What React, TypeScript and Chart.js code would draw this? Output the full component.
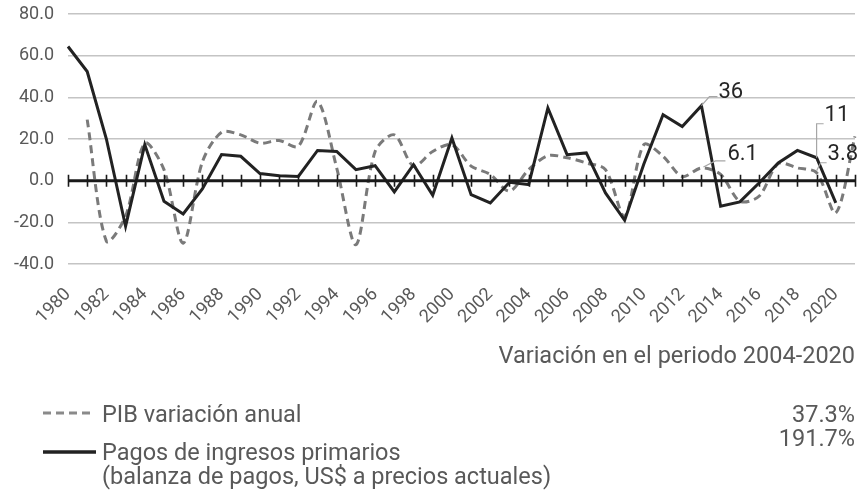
import React, { useEffect, useRef } from "react";
import { Chart, registerables } from "chart.js";

Chart.register(...registerables);

const years = [
  "1980", "1981", "1982", "1983", "1984", "1985", "1986", "1987", "1988", "1989",
  "1990", "1991", "1992", "1993", "1994", "1995", "1996", "1997", "1998", "1999",
  "2000", "2001", "2002", "2003", "2004", "2005", "2006", "2007", "2008", "2009",
  "2010", "2011", "2012", "2013", "2014", "2015", "2016", "2017", "2018", "2019",
  "2020", "2021",
];

const pibVariacion = [
  null, 29.3, -29, -17, 18, 5.3, -30, 9, 23.2, 22,
  18, 19.3, 16.5, 38, 6, -30.7, 14, 22, 7, 14,
  17.3, 7, 3, -5, 5.3, 12, 11, 8.5, 5.3, -17,
  17.3, 11.7, 2, 6.1, 3, -9.9, -7.5, 8.2, 6.1, 3.8,
  -15.5, 21.3,
];

const pagosIngresos = [
  64.4, 52.4, 20, -21.9, 17.3, -9.9, -16, -4, 12.5, 11.7,
  3.4, 2.4, 2, 14.5, 14, 5.3, 7.2, -5.4, 7.7, -7,
  20.5, -6.7, -10.7, -0.8, -1.9, 34.9, 12.5, 13.3, -5.9, -19,
  8, 31.7, 26, 36, -12.3, -10.2, -1.1, 8.5, 14.5, 11,
  -10.7, null,
];

const yMin = -40;
const yMax = 80;
const yStep = 20;

const legendLabels = [
  "PIB variación anual",
  "Pagos de ingresos primarios",
  "(balanza de pagos, US$ a precios actuales)",
];
const periodTitle = "Variación en el periodo 2004-2020";
const periodValues = ["37.3%", "191.7%"];

// value labels: dataset index (0 = pagos, 1 = pib), year, text
const valueLabels = [
  { ds: 0, year: "2013", text: "36", leader: [[0, 0], [8, -9], [16, -9]], tx: 17, ty: -13 },
  { ds: 1, year: "2013", text: "6.1", leader: [[2, -1], [14, -7], [24, -7]], tx: 26, ty: -13 },
  { ds: 0, year: "2019", text: "11", leader: [[0, 0], [0, -34], [7, -34]], tx: 8, ty: -42 },
  { ds: 1, year: "2019", text: "3.8", leader: [[0, -2], [4, -10], [10, -10]], tx: 11, ty: -18 },
];

const FONT = "Roboto, 'DejaVu Sans', sans-serif";
const GRAY_TEXT = "#595959";

const overlayPlugin = {
  id: "overlay",
  afterDatasetsDraw(chart: any) {
    const { ctx, chartArea, scales } = chart;
    const xs = scales.x;
    const ys = scales.y;
    const y0 = ys.getPixelForValue(0);
    ctx.save();
    ctx.strokeStyle = "#1a1a1a";
    ctx.lineWidth = 3;
    ctx.beginPath();
    ctx.moveTo(chartArea.left, y0);
    ctx.lineTo(chartArea.right, y0);
    ctx.stroke();
    ctx.lineWidth = 1.6;
    ctx.beginPath();
    for (let i = 0; i < years.length; i++) {
      const px = Math.round(xs.getPixelForValue(i)) + 0.5;
      ctx.moveTo(px, y0 - 6);
      ctx.lineTo(px, y0 + 6);
    }
    ctx.stroke();

    ctx.font = `22px ${FONT}`;
    ctx.textBaseline = "middle";
    ctx.textAlign = "left";
    for (const lab of valueLabels) {
      const meta = chart.getDatasetMeta(lab.ds);
      const idx = years.indexOf(lab.year);
      const pt = meta.data[idx];
      if (!pt) continue;
      const px = pt.x;
      const py = pt.y;
      ctx.strokeStyle = "#a6a6a6";
      ctx.lineWidth = 1.2;
      ctx.beginPath();
      lab.leader.forEach(([dx, dy], k) => {
        if (k === 0) ctx.moveTo(px + dx, py + dy);
        else ctx.lineTo(px + dx, py + dy);
      });
      ctx.stroke();
      ctx.fillStyle = "#262626";
      ctx.fillText(lab.text, px + lab.tx, py + lab.ty);
    }
    ctx.restore();
  },
  afterDraw(chart: any) {
    const { ctx } = chart;
    ctx.save();
    ctx.font = `23.5px ${FONT}`;
    ctx.fillStyle = GRAY_TEXT;
    ctx.textBaseline = "alphabetic";
    ctx.textAlign = "right";
    ctx.fillText(periodTitle, 855, 363);
    ctx.fillText(periodValues[0], 855, 422);
    ctx.fillText(periodValues[1], 855, 446);

    ctx.textAlign = "left";
    ctx.fillText(legendLabels[0], 102, 422);
    ctx.fillText(legendLabels[1], 102, 460);
    ctx.fillText(legendLabels[2], 102, 484);

    ctx.strokeStyle = "#8a8a8a";
    ctx.lineWidth = 3;
    ctx.setLineDash([8, 5]);
    ctx.beginPath();
    ctx.moveTo(43, 413);
    ctx.lineTo(91, 413);
    ctx.stroke();
    ctx.setLineDash([]);
    ctx.strokeStyle = "#222222";
    ctx.lineWidth = 3.5;
    ctx.beginPath();
    ctx.moveTo(43, 452);
    ctx.lineTo(96, 452);
    ctx.stroke();
    ctx.restore();
  },
};

export default function App() {
  const canvasRef = useRef<HTMLCanvasElement | null>(null);

  useEffect(() => {
    if (!canvasRef.current) return;
    const chart = new Chart(canvasRef.current, {
      type: "line",
      data: {
        labels: years,
        datasets: [
          {
            label: legendLabels[1],
            data: pagosIngresos,
            borderColor: "#222222",
            borderWidth: 3,
            pointRadius: 0,
            tension: 0,
            fill: false,
            spanGaps: false,
          },
          {
            label: legendLabels[0],
            data: pibVariacion,
            borderColor: "#7a7a7a",
            borderWidth: 3,
            borderDash: [8, 5],
            pointRadius: 0,
            tension: 0.3,
            fill: false,
            spanGaps: false,
          },
        ],
      },
      options: {
        responsive: false,
        animation: false,
        devicePixelRatio: 1,
        layout: { padding: { left: 0, right: 7, top: 14, bottom: 168 } },
        plugins: {
          legend: { display: false },
          tooltip: { enabled: false },
        },
        scales: {
          x: {
            type: "category",
            offset: false,
            grid: { display: false, drawTicks: false },
            border: { display: false },
            ticks: {
              autoSkip: false,
              maxRotation: 45,
              minRotation: 45,
              padding: 20,
              color: GRAY_TEXT,
              font: { family: FONT, size: 18 },
              callback: (_v: any, i: number) => (i % 2 === 0 ? years[i] : ""),
            },
            afterFit: (s: any) => {
              s.height = 60;
              s.paddingLeft = 0;
              s.paddingRight = 0;
              s.paddingTop = 0;
              s.paddingBottom = 0;
            },
          },
          y: {
            min: yMin,
            max: yMax,
            ticks: {
              stepSize: yStep,
              padding: 14,
              color: GRAY_TEXT,
              font: { family: FONT, size: 18 },
              callback: (v: any) => Number(v).toFixed(1),
            },
            grid: { color: "#c4c4c4", lineWidth: 1.5, drawTicks: false },
            border: { display: false },
            afterFit: (s: any) => {
              s.width = 68;
              s.paddingLeft = 0;
              s.paddingRight = 0;
              s.paddingTop = 0;
              s.paddingBottom = 0;
            },
          },
        },
      },
      plugins: [overlayPlugin],
    });
    return () => chart.destroy();
  }, []);

  return (
    <div style={{ position: "absolute", left: 0, top: 0, width: 862, height: 492, background: "#fff" }}>
      <canvas ref={canvasRef} width={862} height={492} style={{ width: 862, height: 492, display: "block" }} />
    </div>
  );
}
